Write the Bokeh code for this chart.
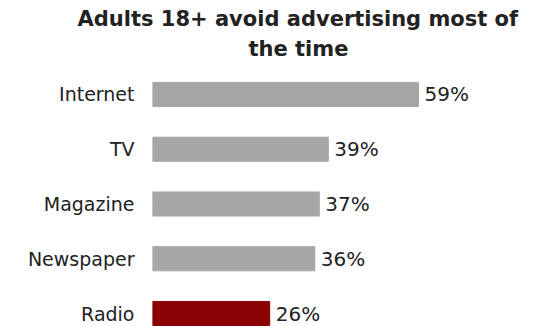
from bokeh.plotting import figure
from bokeh.models import ColumnDataSource, LabelSet, Title, Range1d, FixedTicker
from bokeh.core.properties import value
from bokeh.embed import file_html
from bokeh.resources import INLINE

# ---- data ----
categories = ["Internet", "TV", "Magazine", "Newspaper", "Radio"]
values = [59, 39, 37, 36, 26]
value_labels = ["59%", "39%", "37%", "36%", "26%"]
title_lines = ["Adults 18+ avoid advertising most of", "the time"]
highlight = "Radio"

GRAY = "#A6A6A8"
RED = "#8B0000"
FONT = "DejaVu Sans"
TXT = "#222222"

n = len(categories)
ypos = [n - 1 - i for i in range(n)]          # first category on top
colors = [RED if c == highlight else GRAY for c in categories]
src = ColumnDataSource(dict(y=ypos, cat=categories, val=values,
                            label=value_labels, color=colors))

p = figure(
    width=533, height=326,
    y_range=Range1d(-0.2374, 4.584),
    x_range=Range1d(0, 82.3),
    x_axis_location=None,
    output_backend="svg", toolbar_location=None,
    min_border_left=152, min_border_right=10, min_border_top=62, min_border_bottom=0,
)
p.outline_line_color = None
p.xgrid.grid_line_color = None
p.ygrid.grid_line_color = None
p.background_fill_color = "white"
p.border_fill_color = "white"

p.hbar(y="y", left=0, right="val", height=0.44, color="color", source=src)

labels = LabelSet(x="val", y="y", text="label", x_offset=6, y_offset=0,
                  text_baseline="middle", text_align="left",
                  text_font_size="20px", text_color=TXT, text_font=value(FONT), source=src)
p.add_layout(labels)

ax = p.yaxis[0]
ax.ticker = FixedTicker(ticks=ypos)
ax.major_label_overrides = {y: c for y, c in zip(ypos, categories)}
ax.axis_line_color = None
ax.major_tick_line_color = None
ax.minor_tick_line_color = None
ax.major_tick_out = 0
ax.major_tick_in = 0
ax.major_label_standoff = 18
ax.major_label_text_font = FONT
ax.major_label_text_font_size = "19px"
ax.major_label_text_color = TXT

# title: second line first (closest to frame), then first line
t2 = Title(text=title_lines[1], align="left", offset=96, text_font=FONT, text_font_size="21px",
           text_font_style="bold", text_color=TXT, standoff=4)
t1 = Title(text=title_lines[0], align="left", offset=-75, text_font=FONT, text_font_size="21px",
           text_font_style="bold", text_color=TXT, standoff=4)
p.add_layout(t2, "above")
p.add_layout(t1, "above")

open("out.html", "w").write(file_html(p, INLINE))
